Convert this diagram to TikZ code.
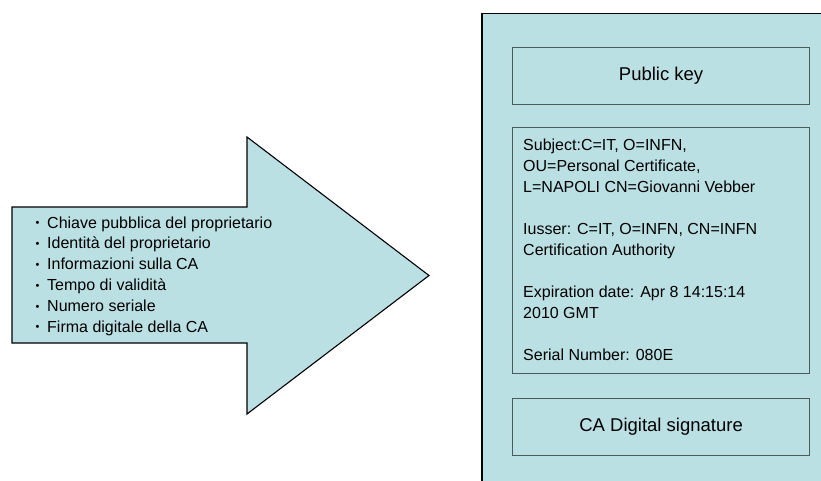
\documentclass[tikz,border=0pt]{standalone}
\usepackage{fontspec}
\setmainfont{Liberation Sans}
\definecolor{certfill}{RGB}{187,224,228}
\definecolor{boxline}{RGB}{72,92,96}
\begin{document}
\begin{tikzpicture}[x=1pt,y=-1pt,
  shape outline/.style={draw=black,line width=1.1pt,fill=certfill},
  fieldbox/.style={draw=boxline,line width=1.2pt},
  listline/.style={anchor=base west,inner sep=0pt,font=\fontsize{16}{20}\selectfont},
  certline/.style={anchor=base west,inner sep=0pt,font=\fontsize{16}{20}\selectfont},
  boxtitle/.style={inner sep=0pt,font=\fontsize{18.5}{22}\selectfont}]
\useasboundingbox (0,0) rectangle (821,480);
% block arrow carrying the certificate contents
\draw[shape outline] (12,207) -- (247,207) -- (247,137) -- (429,275.5)
  -- (247,414) -- (247,343) -- (12,343) -- cycle;
\foreach \n/\y/\t in {1/228/{Chiave pubblica del proprietario},
                       2/248.8/{Identità del proprietario},
                       3/269.6/{Informazioni sulla CA},
                       4/290.4/{Tempo di validità},
                       5/311.2/{Numero seriale},
                       6/332/{Firma digitale della CA}}{
  \node[listline] (b\n) at (35.5,\y) {\fontsize{11}{11}\selectfont\raisebox{1.2pt}{•}};
  \node[listline] (l\n) at (47,\y) {\t};
}
% certificate panel (runs past the page edges)
\draw[shape outline] (482,13.5) rectangle (840,500);
\node[fieldbox,minimum width=297pt,minimum height=57pt,anchor=north west,
      boxtitle] (pk) at (512,47) {Public key};
\node[fieldbox,minimum width=297pt,minimum height=246pt,anchor=north west]
      (info) at (512,127) {};
\node[fieldbox,minimum width=297pt,minimum height=57pt,anchor=north west,
      boxtitle] (sig) at (512,398) {CA Digital signature};
\foreach \n/\y/\t in {1/150/{Subject:C=IT, O=INFN,},
                       2/171/{OU=Personal Certificate,},
                       3/192/{L=NAPOLI CN=Giovanni Vebber},
                       4/234/{Iusser: C=IT, O=INFN, CN=INFN},
                       5/255/{Certification Authority},
                       6/297/{Expiration date: Apr 8 14:15:14},
                       7/318/{2010 GMT},
                       8/360/{Serial Number: 080E}}{
  \node[certline] (c\n) at (523,\y) {\t};
}
\end{tikzpicture}
\end{document}
